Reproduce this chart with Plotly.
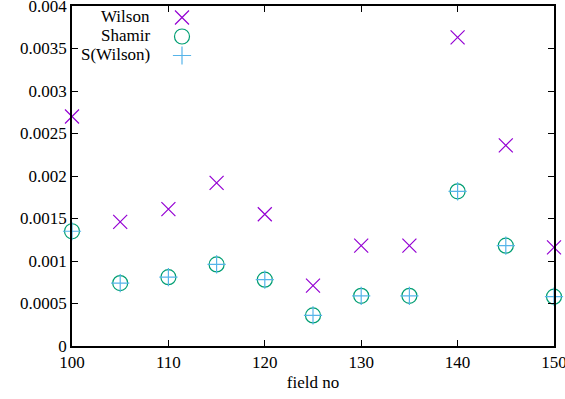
import plotly.graph_objects as go

field_no = [100, 105, 110, 115, 120, 125, 130, 135, 140, 145, 150]
wilson = [0.0027, 0.00146, 0.00161, 0.00192, 0.00155, 0.00071, 0.00118, 0.00118, 0.00363, 0.00236, 0.00116]
shamir = [0.00135, 0.00074, 0.00081, 0.00096, 0.00078, 0.00036, 0.00059, 0.00059, 0.00182, 0.00118, 0.00058]
s_wilson = [0.00135, 0.00074, 0.00081, 0.00096, 0.00078, 0.00036, 0.00059, 0.00059, 0.00182, 0.00118, 0.00058]
series_names = ["Wilson", "Shamir", "S(Wilson)"]
x_ticks = [100, 110, 120, 130, 140, 150]
y_ticks = [0, 0.0005, 0.001, 0.0015, 0.002, 0.0025, 0.003, 0.0035, 0.004]
y_tick_text = ["0", "0.0005", "0.001", "0.0015", "0.002", "0.0025", "0.003", "0.0035", "0.004"]

FONT = "Liberation Serif"
FS = 17
colors = ["#9400D3", "#009E73", "#56B4E9"]
symbols = ["x-thin-open", "circle-open", "cross-thin-open"]
sizes = [14, 15, 13]

L, R, T, B = 72, 11, 6, 53
PW, PH = 565 - L - R, 399 - T - B
ROW = 19
FIRST = 16

fig = go.Figure()
for ys, c, s, sz in zip([wilson, shamir, s_wilson], colors, symbols, sizes):
    fig.add_trace(go.Scatter(
        x=field_no, y=ys, mode="markers", name=" ",
        marker=dict(symbol=s, size=sz, color=c, line=dict(color=c, width=1.2)),
        cliponaxis=False,
    ))

for i, n in enumerate(series_names):
    fig.add_annotation(
        text=n, xref="paper", yref="paper", x=(152 - L) / PW,
        y=(399 - B - (FIRST + i * ROW)) / PH,
        xanchor="right", yanchor="middle", showarrow=False,
        font=dict(family=FONT, size=FS, color="black"),
    )

fig.update_layout(
    width=565, height=399,
    margin=dict(l=L, r=R, t=T, b=B, autoexpand=False),
    plot_bgcolor="white", paper_bgcolor="white",
    font=dict(family=FONT, size=FS, color="black"),
    showlegend=True,
    legend=dict(x=(162 - L) / PW, y=1 - (FIRST - 13 - T) / PH, xanchor="left", yanchor="top",
                bgcolor="rgba(0,0,0,0)", font=dict(size=11), tracegroupgap=0,
                itemwidth=30),
    xaxis=dict(range=[100, 150], tickvals=x_ticks, ticks="inside", ticklen=6,
               tickwidth=1.2, tickcolor="black", showline=True, linecolor="black",
               linewidth=1.8, mirror="ticks", showgrid=False, zeroline=False,
               ticklabeloverflow="allow",
               title=dict(text="field no", standoff=5, font=dict(size=FS)),
               tickfont=dict(size=FS)),
    yaxis=dict(range=[0, 0.004], tickvals=y_ticks, ticktext=y_tick_text, ticks="inside",
               ticklen=6, tickwidth=1.2, tickcolor="black", showline=True,
               linecolor="black", linewidth=1.8, mirror="ticks", showgrid=False,
               zeroline=False, ticklabeloverflow="allow", tickfont=dict(size=FS)),
)

fig.write_html("out.html", config={"displayModeBar": False},
               post_script="document.body.style.margin='0px';document.body.style.overflow='hidden';")
